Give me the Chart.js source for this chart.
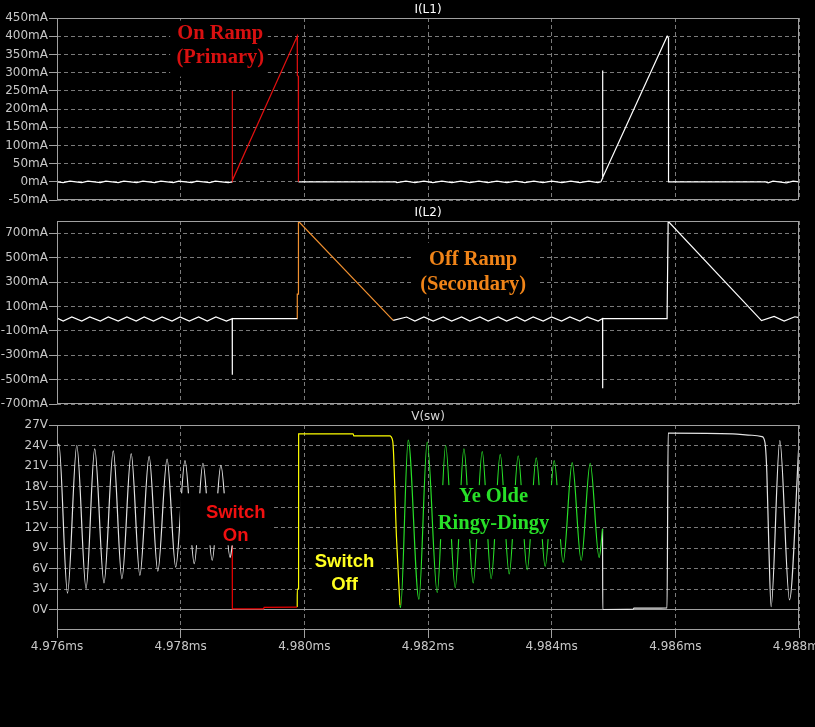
<!DOCTYPE html>
<html>
<head>
<meta charset="utf-8">
<title>I(L1) / I(L2) / V(sw)</title>
<script src="https://cdn.jsdelivr.net/npm/chart.js@4.4.1/dist/chart.umd.min.js"></script>
<style>
  html, body { margin: 0; padding: 0; background: #000; }
  body { width: 815px; height: 727px; position: relative; overflow: hidden; }
  canvas { position: absolute; left: 0; }
</style>
</head>
<body>
<canvas id="paneL1" width="815" height="205" style="top:0px"></canvas>
<canvas id="paneL2" width="815" height="206" style="top:203px"></canvas>
<canvas id="paneSw" width="815" height="320" style="top:407px"></canvas>

<script>
/* Three stacked panes, LTspice style: I(L1), I(L2) and V(sw)
   time is in microseconds, labels are shown in ms
*/

// ---- ticks ----
const timeTicks = [4976, 4978, 4980, 4982, 4984, 4986, 4988];
const l1Ticks = [-50, 0, 50, 100, 150, 200, 250, 300, 350, 400, 450];
const l2Ticks = [-700, -500, -300, -100, 100, 300, 500, 700];
const swTicks = [0, 3, 6, 9, 12, 15, 18, 21, 24, 27];

// ---- I(L1) in mA ----
const l1WhiteAT = [4976.00, 4976.10, 4976.21, 4976.40, 4976.50, 4976.70, 4976.79, 4976.99, 4977.08, 4977.29, 4977.39,
                   4977.58, 4977.68, 4977.88, 4977.97, 4978.18, 4978.26, 4978.47, 4978.56, 4978.77, 4978.834];
const l1WhiteA = [0, -2, 2, -2, 2, -2, 2, -2, 2, -2, 2, -2, 2, -2, 2, -2, 2, -2, 2, -2, 0];

const l1RedT = [4978.834, 4978.835, 4978.837, 4979.885, 4979.887, 4979.903, 4979.905];
const l1Red = [0, 250, 4, 400, 292, 290, 0];

const l1WhiteBT = [4979.905, 4981.465, 4981.497, 4981.643, 4981.788, 4981.934, 4982.079, 4982.225, 4982.386, 4982.532,
                   4982.677, 4982.823, 4982.968, 4983.114, 4983.276, 4983.421, 4983.567, 4983.712, 4983.858, 4984.003,
                   4984.165, 4984.311, 4984.456, 4984.601, 4984.747, 4984.796, 4984.823, 4984.824, 4984.826, 4985.868,
                   4985.889, 4985.890, 4987.447, 4987.500, 4987.580, 4987.797, 4987.905, 4988.000];
const l1WhiteB = [0, 0, -2, 2, -2, 2, -2, 2, -2, 2, -2, 2, -2, 2, -2, 2, -2, 2, -2, 2, -2, 2, -2, 2, -2,
                  0, 10, 306, 12, 400, 395, 0, 0, -3, 2, -3, 2, 0];

// ---- I(L2) in mA ----
const l2WhiteAT = [4976.00, 4976.10, 4976.24, 4976.40, 4976.53, 4976.70, 4976.83, 4976.99, 4977.13, 4977.28, 4977.41,
                   4977.56, 4977.70, 4977.86, 4977.99, 4978.14, 4978.29, 4978.43, 4978.57, 4978.74,
                   4978.834, 4978.835, 4978.836, 4979.885];
const l2WhiteA = [5, -20, 13, -20, 13, -20, 13, -20, 13, -20, 13, -20, 13, -20, 13, -20, 13, -20, 13, -20,
                  0, -460, 0, 0];

const l2OrangeT = [4979.885, 4979.886, 4979.904, 4979.905, 4981.437];
const l2Orange = [0, 200, 200, 798, -15];

const l2WhiteBT = [4981.437, 4981.654, 4981.788, 4981.934, 4982.084, 4982.246, 4982.382, 4982.543, 4982.678, 4982.839,
                   4982.973, 4983.135, 4983.271, 4983.433, 4983.567, 4983.701, 4983.863, 4983.998, 4984.160, 4984.294,
                   4984.456, 4984.574, 4984.752, 4984.823, 4984.824, 4984.826, 4985.866, 4985.867, 4985.884, 4987.394,
                   4987.598, 4987.760, 4987.932, 4988.000];
const l2WhiteB = [-15, 13, -20, 13, -20, 13, -20, 13, -20, 13, -20, 13, -20, 13, -20, 13, -20, 13, -20, 13, -20, 13, -20,
                  0, -570, 0, 0, 30, 798, -17, 18, -20, 15, 8];

// ---- V(sw) in V ----
const swWhiteAT = [4976.00, 4976.03, 4976.17, 4976.32, 4976.47, 4976.61, 4976.76, 4976.91, 4977.05, 4977.20, 4977.34,
                   4977.49, 4977.63, 4977.78, 4977.92, 4978.07, 4978.22, 4978.36, 4978.51, 4978.65, 4978.80, 4978.834];
const swWhiteA = [23.6, 24.2, 2.4, 24.0, 3.1, 23.5, 3.9, 23.2, 4.5, 22.8, 5.0, 22.4, 5.6, 22.0, 6.2, 21.8, 6.7, 21.4,
                  7.2, 21.1, 7.6, 9.4];

const swRedT = [4978.834, 4978.836, 4979.34, 4979.35, 4979.885];
const swRed = [9.4, 0.1, 0.1, 0.3, 0.35];

const swYellowT = [4979.885, 4979.886, 4979.907, 4979.908, 4980.79, 4980.80, 4981.38, 4981.43, 4981.49, 4981.546];
const swYellow = [0.35, 3.0, 3.0, 25.7, 25.7, 25.4, 25.4, 24.6, 10.6, 0.65];

const swGreenT = [4981.546, 4981.557, 4981.680, 4981.853, 4981.987, 4982.149, 4982.285, 4982.440, 4982.581, 4982.731,
                  4982.877, 4983.022, 4983.168, 4983.313, 4983.459, 4983.604, 4983.750, 4983.895, 4984.041, 4984.186,
                  4984.332, 4984.477, 4984.623, 4984.768, 4984.823];
const swGreen = [0.65, 0.3, 24.8, 1.5, 24.5, 2.5, 24.0, 3.2, 23.5, 3.9, 23.1, 4.5, 22.7, 5.2, 22.5, 5.8, 22.2, 6.3,
                 21.8, 6.9, 21.5, 7.2, 21.4, 7.6, 11.8];

const swWhiteBT = [4984.823, 4984.826, 4985.32, 4985.33, 4985.866, 4985.884, 4985.90, 4986.93, 4987.24, 4987.40,
                   4987.45, 4987.48, 4987.51, 4987.549, 4987.69, 4987.846, 4988.00];
const swWhiteB = [11.8, 0.0, 0.05, 0.2, 0.25, 25.8, 25.8, 25.7, 25.5, 25.3, 24.4, 20.0, 10.0, 0.4, 24.7, 1.4, 24.4];


const gridColor = '#7a7a7a';
const frameColor = '#a0a0a0';
const labelColor = '#c8c8c8';

function pts(ts, vs) {
    return ts.map((t, i) => ({ x: t, y: vs[i] }));
}

function trace(ts, vs, color, smooth) {
    return {
        data: pts(ts, vs),
        borderColor: color,
        borderWidth: 1.2,
        pointRadius: 0,
        tension: 0,
        cubicInterpolationMode: smooth ? 'monotone' : 'default'
    };
}

// frame, pane title and the pasted-on notes (black box + text)
const paneExtras = {
    id: 'paneExtras',
    afterDatasetsDraw(chart, args, opts) {
        const { ctx, chartArea: a, scales: { x, y } } = chart;
        ctx.save();
        ctx.strokeStyle = frameColor;
        ctx.lineWidth = 1;
        ctx.strokeRect(a.left + 0.5, a.top + 0.5, a.width - 1, a.height - 1);

        (opts.notes || []).forEach((n) => {
            const bx0 = x.getPixelForValue(n.box[0]);
            const bx1 = x.getPixelForValue(n.box[1]);
            const by0 = y.getPixelForValue(n.box[2]);
            const by1 = y.getPixelForValue(n.box[3]);
            ctx.fillStyle = '#000';
            ctx.fillRect(bx0, by0, bx1 - bx0, by1 - by0);
            ctx.font = n.font;
            ctx.fillStyle = n.color;
            ctx.textAlign = 'center';
            ctx.textBaseline = 'alphabetic';
            const cx = x.getPixelForValue(n.x);
            const base = y.getPixelForValue(n.y);
            n.lines.forEach((s, i) => ctx.fillText(s, cx, base + i * n.gap));
        });

        ctx.font = '12px "DejaVu Sans"';
        ctx.fillStyle = opts.titleColor;
        ctx.textAlign = 'center';
        ctx.textBaseline = 'alphabetic';
        ctx.fillText(opts.title, (a.left + a.right) / 2, a.top - 5);
        ctx.restore();
    }
};

function makePane(id, cfg) {
    const dashFor = (ctx) => (ctx.tick && ctx.tick.value === 0 && cfg.solidZero) ? [] : [4, 3];
    const colorFor = (ctx) => (ctx.tick && ctx.tick.value === 0 && cfg.solidZero) ? frameColor : gridColor;
    return new Chart(document.getElementById(id), {
        type: 'line',
        data: { datasets: cfg.datasets },
        options: {
            responsive: false,
            animation: false,
            events: [],
            layout: { padding: { top: 18, right: 16, left: 0, bottom: 0 } },
            plugins: {
                legend: { display: false },
                tooltip: { enabled: false },
                paneExtras: { title: cfg.title, titleColor: cfg.titleColor, notes: cfg.notes }
            },
            scales: {
                x: {
                    type: 'linear',
                    min: 4976,
                    max: 4988,
                    afterBuildTicks: (axis) => { axis.ticks = timeTicks.map(v => ({ value: v })); },
                    grid: { color: gridColor, drawTicks: cfg.timeLabels, tickLength: 8,
                            tickColor: frameColor, tickBorderDash: [] },
                    border: { display: false, dash: [4, 3] },
                    ticks: {
                        display: cfg.timeLabels,
                        autoSkip: false,
                        maxRotation: 0,
                        padding: 2,
                        color: labelColor,
                        font: { family: 'DejaVu Sans', size: 12 },
                        callback: (v) => (v / 1000).toFixed(3) + 'ms'
                    },
                    afterFit: (axis) => { axis.height = cfg.xHeight; axis.paddingLeft = 0; axis.paddingRight = 0; }
                },
                y: {
                    min: cfg.min,
                    max: cfg.max,
                    afterBuildTicks: (axis) => { axis.ticks = cfg.ticks.map(v => ({ value: v })); },
                    grid: { color: colorFor, tickLength: 8, tickColor: frameColor, tickBorderDash: [] },
                    border: { display: false, dash: dashFor },
                    ticks: {
                        autoSkip: false,
                        padding: 1,
                        color: labelColor,
                        font: { family: 'DejaVu Sans', size: 12 },
                        callback: (v) => v + cfg.unit
                    },
                    afterFit: (axis) => { axis.width = 57; axis.paddingTop = 0; axis.paddingBottom = 0; }
                }
            }
        },
        plugins: [paneExtras]
    });
}

function mainEvent() {
    const serif = 'bold 20.5px "Liberation Serif"';
    const sans = 'bold 18.5px "Liberation Sans"';

    makePane('paneL1', {
        title: 'I(L1)', titleColor: '#ffffff', unit: 'mA',
        min: -50, max: 450, ticks: l1Ticks, timeLabels: false, xHeight: 5,
        datasets: [
            trace(l1WhiteAT, l1WhiteA, '#ffffff', false),
            trace(l1RedT, l1Red, '#e01010', false),
            trace(l1WhiteBT, l1WhiteB, '#ffffff', false)
        ],
        notes: [
            { lines: ['On Ramp', '(Primary)'], x: 4978.64, y: 391, gap: 24, color: '#d81010', font: serif,
              box: [4977.83, 4979.41, 443, 289] }
        ]
    });

    makePane('paneL2', {
        title: 'I(L2)', titleColor: '#ffffff', unit: 'mA',
        min: -700, max: 800, ticks: l2Ticks, timeLabels: false, xHeight: 5,
        datasets: [
            trace(l2WhiteAT, l2WhiteA, '#ffffff', false),
            trace(l2OrangeT, l2Orange, '#f09030', false),
            trace(l2WhiteBT, l2WhiteB, '#ffffff', false)
        ],
        notes: [
            { lines: ['Off Ramp', '(Secondary)'], x: 4982.73, y: 442, gap: 25, color: '#f08418', font: serif,
              box: [4981.74, 4983.81, 622, 171] }
        ]
    });

    makePane('paneSw', {
        title: 'V(sw)', titleColor: '#d8d8d8', unit: 'V', solidZero: true,
        min: -3, max: 27, ticks: swTicks, timeLabels: true, xHeight: 97,
        datasets: [
            trace(swWhiteAT, swWhiteA, '#e4e4e4', true),
            trace(swRedT, swRed, '#e80000', false),
            trace(swYellowT, swYellow, '#ffff00', true),
            trace(swGreenT, swGreen, '#28e028', true),
            trace(swWhiteBT, swWhiteB, '#e4e4e4', true)
        ],
        notes: [
            { lines: ['Switch', 'On'], x: 4978.89, y: 13.44, gap: 23.4, color: '#f01010', font: sans,
              box: [4977.99, 4979.46, 17.0, 9.4] },
            { lines: ['Switch', 'Off'], x: 4980.65, y: 6.18, gap: 22.3, color: '#ffff20', font: sans,
              box: [4980.12, 4981.25, 8.8, 2.2] },
            { lines: ['Ye Olde', 'Ringy-Dingy'], x: 4983.06, y: 15.74, gap: 27.3, color: '#28e028', font: serif,
              box: [4982.13, 4984.16, 18.2, 10.3] }
        ]
    });
}

document.addEventListener('DOMContentLoaded', () => mainEvent());
</script>
</body>
</html>
